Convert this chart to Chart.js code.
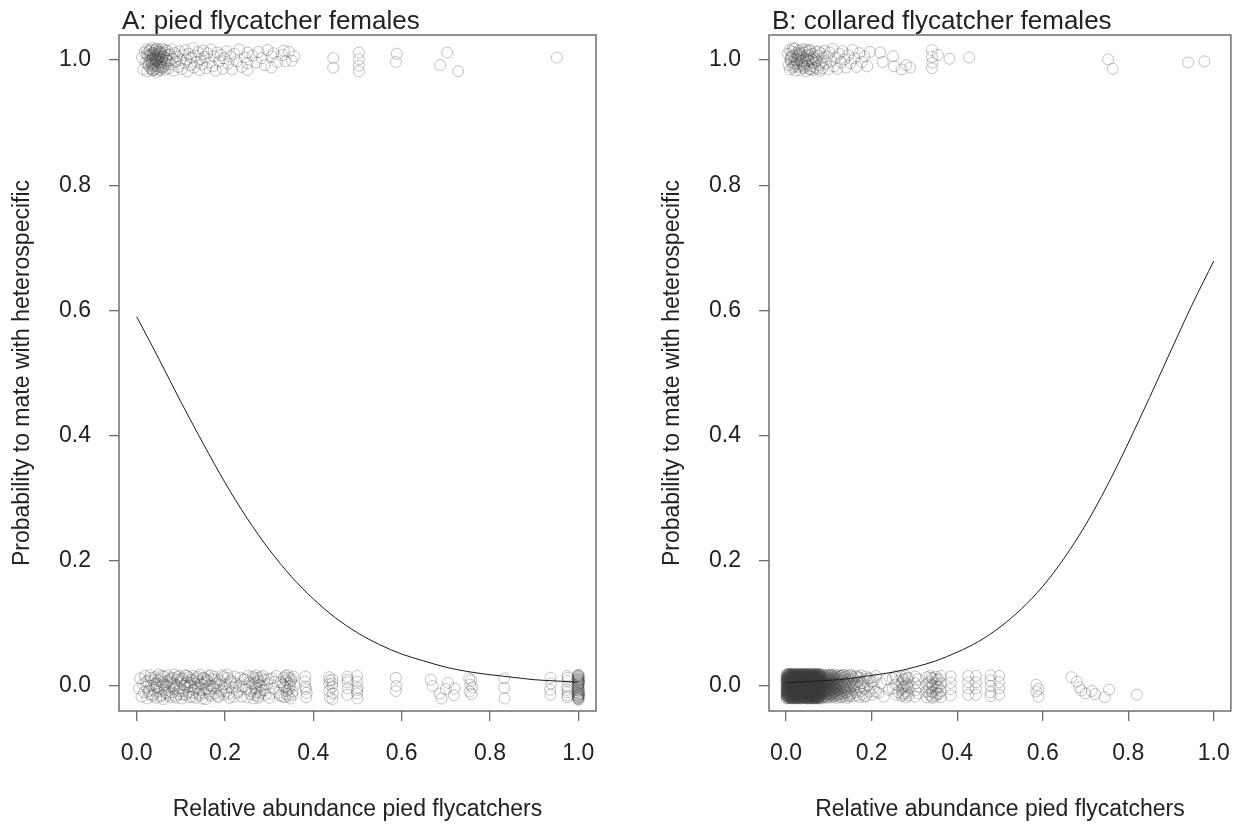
<!DOCTYPE html>
<html>
<head>
<meta charset="utf-8">
<title>Heterospecific pairing vs relative abundance</title>
<script src="https://cdn.jsdelivr.net/npm/chart.js@4.4.1/dist/chart.umd.min.js"></script>
<style>
  html, body { margin: 0; padding: 0; background: #fff; }
  #wrap { position: relative; width: 1249px; height: 824px; overflow: hidden; }
  canvas { position: absolute; top: 0; }
  #panelA { left: 0; }
  #panelB { left: 624px; }
</style>
</head>
<body>
<div id="wrap">
  <canvas id="panelA" width="624" height="824"></canvas>
  <canvas id="panelB" width="625" height="824"></canvas>
</div>
<script>
// Axis ticks and labels
const xTickValues = [0, 0.2, 0.4, 0.6, 0.8, 1.0];
const yTickValues = [0, 0.2, 0.4, 0.6, 0.8, 1.0];
const xTitle = 'Relative abundance pied flycatchers';
const yTitle = 'Probability to mate with heterospecific';
const panelTitles = ['A: pied flycatcher females', 'B: collared flycatcher females'];

// Fitted probability curves
const fitX = [0, 0.05, 0.10, 0.15, 0.20, 0.25, 0.30, 0.35, 0.40, 0.45, 0.50,
              0.55, 0.60, 0.65, 0.70, 0.75, 0.80, 0.85, 0.90, 0.95, 1.00];
const piedFit = [0.590, 0.523, 0.454, 0.388, 0.325, 0.268, 0.218, 0.175, 0.139, 0.109, 0.085,
                 0.066, 0.051, 0.040, 0.030, 0.023, 0.018, 0.014, 0.010, 0.008, 0.006];
const collaredFit = [0.005, 0.007, 0.009, 0.012, 0.017, 0.022, 0.030, 0.040, 0.054, 0.071, 0.094,
                     0.123, 0.159, 0.204, 0.257, 0.319, 0.388, 0.461, 0.536, 0.610, 0.679];

// Pied females that paired with a collared male (jittered around 1)
const piedOnes = [
  [0.012,1.004],[0.015,0.985],[0.018,1.012],[0.020,0.996],[0.022,1.017],[0.024,0.982],[0.025,1.006],[0.027,0.991],
  [0.028,1.014],[0.030,0.999],[0.031,0.987],[0.032,1.009],[0.034,0.994],[0.035,1.019],[0.036,0.983],[0.037,1.002],
  [0.038,0.990],[0.039,1.011],[0.040,0.997],[0.041,1.015],[0.042,0.986],[0.043,1.005],[0.044,0.993],[0.045,1.008],
  [0.046,0.981],[0.047,1.013],[0.048,0.998],[0.049,1.003],[0.050,0.989],[0.051,1.016],[0.052,0.995],[0.053,1.007],
  [0.054,0.984],[0.055,1.010],[0.056,0.992],[0.057,1.001],[0.058,1.018],[0.059,0.988],[0.060,1.006],[0.062,0.996],
  [0.063,1.012],[0.065,0.985],[0.066,1.003],[0.068,0.994],[0.069,1.015],[0.071,0.999],[0.073,0.987],[0.075,1.009],
  [0.077,0.993],[0.079,1.017],[0.081,1.002],[0.083,0.983],[0.086,1.011],[0.088,0.997],[0.091,1.006],[0.094,0.989],
  [0.097,1.014],[0.099,1.000],[0.033,1.001],[0.036,1.008],[0.044,0.999],[0.047,0.990],[0.051,1.004],[0.041,1.006],
  [0.029,1.007],[0.054,1.013],[0.038,0.984],[0.045,1.018],
  [0.023,1.009],[0.026,0.994],[0.030,1.016],[0.034,0.986],[0.037,1.011],[0.040,0.992],[0.043,1.017],[0.046,1.001],
  [0.049,0.985],[0.052,1.012],[0.055,0.997],[0.058,1.005],[0.061,0.990],[0.064,1.016],[0.067,0.999],[0.070,1.008],
  [0.035,0.996],[0.042,1.002],[0.048,1.010],[0.056,0.988],
  [0.102,0.986],[0.105,1.008],[0.108,0.995],[0.110,1.016],[0.113,1.001],[0.115,0.982],[0.118,1.010],[0.121,0.992],
  [0.124,1.004],[0.127,1.019],[0.130,0.988],[0.133,1.007],[0.136,0.997],[0.139,1.013],[0.142,0.984],[0.145,1.002],
  [0.148,0.993],[0.151,1.015],[0.154,1.005],[0.157,0.987],[0.160,1.011],[0.164,0.996],[0.168,1.017],[0.171,0.990],
  [0.175,1.006],[0.179,0.983],[0.183,1.012],[0.187,0.998],[0.191,1.008],[0.195,0.986],[0.198,1.003],
  [0.203,1.014],[0.207,0.994],[0.212,1.006],[0.216,0.985],[0.221,1.010],[0.226,0.998],[0.232,1.017],[0.238,0.989],
  [0.245,1.004],[0.251,0.995],[0.251,1.012],[0.251,0.984],[0.262,1.007],[0.271,0.996],[0.276,1.013],[0.283,1.003],
  [0.290,0.992],[0.296,1.016],[0.305,1.006],[0.305,0.988],[0.310,1.011],[0.318,0.997],[0.330,1.008],[0.333,1.015],
  [0.337,0.998],[0.345,1.013],[0.351,0.999],[0.357,1.006],
  [0.445,1.003],[0.445,0.988],[0.503,1.012],[0.503,1.001],[0.503,0.991],[0.503,0.982],[0.589,1.010],[0.587,0.997],
  [0.703,1.012],[0.687,0.992],[0.728,0.982],[0.951,1.004]
];

// Pied females paired with a pied male (jittered around 0)
const piedZeros = [
  [0.005,-0.004],[0.008,0.012],[0.011,-0.017],[0.014,0.003],[0.017,-0.010],[0.019,0.016],[0.022,-0.001],[0.024,-0.020],
  [0.026,0.008],[0.029,-0.013],[0.031,0.017],[0.033,0.000],[0.035,-0.016],[0.038,0.010],[0.040,-0.006],[0.042,0.014],
  [0.044,-0.019],[0.046,0.004],[0.048,-0.009],[0.050,0.018],[0.052,-0.003],[0.054,0.011],[0.056,-0.015],[0.058,0.006],
  [0.060,-0.021],[0.062,0.015],[0.064,-0.007],[0.066,0.002],[0.068,-0.012],[0.070,0.017],[0.072,-0.002],[0.074,0.009],
  [0.076,-0.018],[0.078,0.005],[0.080,-0.010],[0.082,0.013],[0.084,-0.005],[0.086,0.018],[0.088,-0.016],[0.090,0.001],
  [0.092,0.010],[0.094,-0.013],[0.096,0.016],[0.098,-0.004],[0.100,0.007],[0.102,-0.020],[0.104,0.012],[0.106,-0.008],
  [0.108,0.003],[0.110,0.017],[0.112,-0.014],[0.114,0.006],[0.116,-0.002],[0.118,0.014],[0.120,-0.018],[0.122,0.000],
  [0.124,0.010],[0.126,-0.011],[0.128,0.016],[0.130,-0.006],[0.132,0.004],[0.134,-0.019],[0.136,0.012],[0.138,-0.003],
  [0.140,0.008],[0.142,-0.015],[0.144,0.018],[0.146,-0.007],[0.148,0.002],[0.150,0.013],[0.152,-0.012],[0.154,0.006],
  [0.156,-0.021],[0.158,0.010],[0.160,-0.004],[0.162,0.016],[0.164,-0.009],[0.166,0.001],[0.168,-0.016],[0.170,0.011],
  [0.173,-0.001],[0.176,0.015],[0.179,-0.012],[0.182,0.005],[0.185,-0.018],[0.188,0.009],[0.191,-0.006],[0.194,0.017],
  [0.197,-0.014],[0.200,0.003],[0.203,-0.009],[0.206,0.013],[0.210,-0.019],[0.214,0.006],[0.218,-0.003],[0.222,0.015],
  [0.227,-0.011],[0.232,0.001],[0.237,-0.017],[0.242,0.010],[0.247,-0.005],[0.252,0.016],[0.257,-0.013],[0.261,0.004],
  [0.264,-0.020],[0.266,0.012],[0.268,-0.002],[0.270,0.017],[0.272,-0.010],[0.274,0.007],[0.276,-0.016],[0.278,0.002],
  [0.281,0.014],[0.284,-0.007],[0.288,0.010],[0.292,-0.014],[0.296,0.003],[0.300,-0.019],[0.305,0.012],[0.310,-0.004],
  [0.316,0.016],[0.321,-0.011],[0.326,0.006],[0.330,-0.017],[0.333,0.013],[0.336,-0.002],[0.338,0.009],[0.340,-0.013],
  [0.342,0.017],[0.344,-0.006],[0.346,0.004],[0.348,-0.020],[0.350,0.011],[0.353,-0.009],[0.356,0.001],
  [0.021,0.007],[0.027,-0.008],[0.032,0.013],[0.037,-0.014],[0.041,0.003],[0.045,-0.002],[0.049,0.009],[0.053,-0.017],
  [0.057,0.016],[0.061,0.001],[0.065,-0.011],[0.069,0.007],[0.073,-0.015],[0.077,0.012],[0.081,-0.001],[0.085,0.004],
  [0.089,-0.019],[0.093,0.014],[0.097,-0.008],[0.101,0.011],[0.105,-0.014],[0.109,0.000],[0.113,0.016],[0.117,-0.010],
  [0.121,0.005],[0.125,-0.017],[0.129,0.009],[0.133,-0.003],[0.137,0.015],[0.141,-0.012],[0.145,0.004],[0.149,-0.020],
  [0.153,0.012],[0.157,-0.006],[0.161,0.008],[0.165,-0.013],[0.169,0.017],[0.174,-0.004],[0.178,0.010],[0.183,-0.016],
  [0.187,0.002],[0.192,-0.009],[0.196,0.014],[0.201,-0.002],[0.205,0.018],[0.209,-0.012],[0.213,0.009],[0.220,-0.017],
  [0.225,0.004],[0.230,-0.008],[0.235,0.013],[0.240,-0.001],[0.245,0.011],[0.250,-0.018],[0.255,0.006],[0.259,-0.008],
  [0.263,0.015],[0.267,-0.014],[0.269,0.004],[0.271,-0.005],[0.273,0.013],[0.275,-0.019],[0.277,0.009],[0.279,-0.011],
  [0.282,0.000],[0.286,0.016],[0.290,-0.007],[0.298,0.011],[0.303,-0.012],[0.313,0.007],[0.324,-0.015],[0.331,0.002],
  [0.335,-0.018],[0.337,0.016],[0.339,-0.008],[0.341,0.005],[0.343,-0.016],[0.345,0.013],[0.347,-0.001],[0.349,0.008],
  [0.352,-0.014],[0.355,0.015],
  [0.381,0.007],[0.383,-0.005],[0.384,-0.018],[0.382,0.015],[0.385,-0.011],[0.382,-0.001],
  [0.436,0.014],[0.436,0.003],[0.436,-0.008],[0.437,-0.019],[0.443,0.010],[0.443,-0.001],[0.444,-0.012],[0.443,-0.021],
  [0.437,0.009],[0.443,0.004],
  [0.477,0.015],[0.477,0.006],[0.478,-0.004],[0.477,-0.014],[0.499,0.016],[0.499,0.007],[0.500,-0.003],[0.499,-0.012],
  [0.500,-0.020],[0.478,0.010],[0.499,-0.007],
  [0.587,0.013],[0.588,0.000],[0.587,-0.008],
  [0.666,0.010],[0.670,0.000],[0.686,-0.012],[0.690,-0.020],[0.700,-0.005],[0.705,0.005],[0.718,-0.015],[0.720,-0.004],
  [0.753,0.012],[0.755,0.002],[0.754,-0.009],[0.757,0.009],[0.760,-0.002],[0.758,-0.013],
  [0.832,0.012],[0.832,-0.003],[0.833,-0.020],
  [0.937,0.013],[0.938,0.004],[0.936,-0.006],[0.937,-0.014],
  [0.975,0.016],[0.976,0.008],[0.975,-0.001],[0.976,-0.010],[0.975,-0.018],[0.976,0.013],[0.975,-0.006],[0.976,-0.015],
  [0.999,0.018],[1.001,0.014],[1.000,0.011],[0.998,0.008],[1.002,0.005],[1.000,0.002],[0.999,-0.001],[1.001,-0.004],
  [1.000,-0.007],[0.998,-0.010],[1.002,-0.013],[1.000,-0.016],[0.999,-0.019],[1.001,-0.022],[1.000,0.016],[0.999,0.012],
  [1.001,0.006],[1.000,0.000],[0.998,-0.006],[1.002,-0.012],[1.000,-0.018],[1.001,0.009],[0.999,-0.015],[1.000,0.003],
  [0.999,0.015],[1.001,0.010],[1.000,0.004],[0.999,-0.002],[1.001,-0.008],[1.000,-0.014],[0.999,-0.020],[1.001,0.017],
  [1.000,0.007],[0.999,-0.011],[1.001,-0.017],[1.000,-0.021]
];

// Collared females that paired with a pied male (jittered around 1)
const collaredOnes = [
  [0.004,1.010],[0.006,0.992],[0.008,1.016],[0.009,0.985],[0.011,1.004],[0.012,0.997],[0.014,1.013],[0.015,0.988],
  [0.017,1.007],[0.018,0.994],[0.020,1.018],[0.021,1.001],[0.022,0.983],[0.024,1.011],[0.025,0.996],[0.027,1.006],
  [0.028,0.989],[0.030,1.015],[0.031,1.002],[0.033,0.984],[0.034,1.009],[0.036,0.993],[0.037,1.017],[0.038,0.999],
  [0.040,1.005],[0.041,0.987],[0.043,1.012],[0.044,0.995],[0.046,1.003],[0.047,0.982],[0.049,1.014],[0.050,0.991],
  [0.052,1.008],[0.053,0.998],[0.055,0.986],[0.056,1.016],[0.058,1.002],[0.060,0.990],[0.061,1.010],[0.063,0.984],
  [0.065,1.005],[0.066,0.995],[0.068,0.988],[0.070,1.013],[0.072,0.999],[0.073,0.986],[0.075,1.007],[0.077,0.992],
  [0.079,0.983],[0.081,1.011],[0.083,0.996],[0.085,0.987],[0.087,1.004],
  [0.010,1.001],[0.016,1.019],[0.019,0.990],[0.026,1.000],[0.032,1.012],[0.039,0.991],[0.045,1.017],[0.051,1.000],
  [0.057,0.985],[0.013,1.006],[0.023,0.993],[0.029,1.009],[0.035,0.998],[0.042,0.989],[0.048,1.007],[0.054,1.015],
  [0.062,0.997],[0.069,1.002],[0.076,1.014],
  [0.090,1.015],[0.093,0.994],[0.096,1.006],[0.099,0.985],[0.102,1.012],[0.105,0.998],[0.109,1.018],[0.112,0.990],
  [0.116,1.004],[0.120,0.986],[0.124,1.010],[0.128,0.996],[0.132,1.014],[0.136,1.001],[0.140,0.988],[0.145,1.008],
  [0.150,0.995],[0.155,1.016],[0.160,1.003],[0.165,0.989],[0.171,1.011],[0.177,0.997],[0.183,1.006],[0.190,0.990],
  [0.196,1.013],
  [0.220,1.012],[0.226,0.997],[0.250,1.006],[0.252,0.990],[0.270,0.985],[0.281,0.992],[0.290,0.988],
  [0.341,1.016],[0.341,1.005],[0.342,0.996],[0.341,0.987],[0.355,1.008],[0.382,1.002],[0.428,1.004],
  [0.753,1.001],[0.764,0.986],[0.940,0.996],[0.978,0.998]
];

// Collared females paired with a collared male: site abundance with the jittered outcomes recorded there
const collaredZeroSites = [
  [0.001,[0.018,0.013,0.009,0.006,0.001,-0.003,-0.007,-0.012,-0.015,-0.019]],
  [0.002,[0.015,0.011,0.008,0.004,0.000,-0.004,-0.008,-0.011,-0.016,-0.020]],
  [0.003,[0.017,0.012,0.009,0.005,0.000,-0.004,-0.007,-0.011,-0.015,-0.018]],
  [0.004,[0.016,0.012,0.007,0.003,-0.001,-0.005,-0.009,-0.013,-0.017,0.019]],
  [0.005,[0.019,0.014,0.010,0.006,0.003,-0.001,-0.005,-0.009,-0.013,-0.017]],
  [0.006,[0.018,0.015,0.011,0.007,0.002,-0.002,-0.006,-0.010,-0.014,-0.019]],
  [0.007,[0.017,0.014,0.010,0.005,0.002,-0.002,-0.006,-0.010,-0.014,-0.018]],
  [0.008,[0.016,0.013,0.008,0.004,0.001,-0.003,-0.008,-0.012,-0.016,-0.019]],
  [0.009,[0.018,0.013,0.009,0.006,0.001,-0.003,-0.007,-0.012,-0.015,-0.019]],
  [0.010,[0.019,0.014,0.010,0.006,0.003,-0.001,-0.005,-0.009,-0.013,-0.017]],
  [0.011,[0.016,0.012,0.007,0.003,-0.001,-0.005,-0.009,-0.013,-0.017,0.019]],
  [0.012,[0.017,0.012,0.009,0.005,0.000,-0.004,-0.007,-0.011,-0.015,-0.018]],
  [0.013,[0.015,0.011,0.008,0.004,0.000,-0.004,-0.008,-0.011,-0.016,-0.020]],
  [0.014,[0.018,0.015,0.011,0.007,0.002,-0.002,-0.006,-0.010,-0.014,-0.019]],
  [0.015,[0.016,0.013,0.008,0.004,0.001,-0.003,-0.008,-0.012,-0.016,-0.019]],
  [0.016,[0.017,0.014,0.010,0.005,0.002,-0.002,-0.006,-0.010,-0.014,-0.018]],
  [0.017,[0.016,0.012,0.007,0.003,-0.001,-0.005,-0.009,-0.013,-0.017,0.019]],
  [0.018,[0.016,0.013,0.008,0.004,0.001,-0.003,-0.008,-0.012,-0.016,-0.019]],
  [0.019,[0.018,0.013,0.009,0.006,0.001,-0.003,-0.007,-0.012,-0.015,-0.019]],
  [0.020,[0.018,0.015,0.011,0.007,0.002,-0.002,-0.006,-0.010,-0.014,-0.019]],
  [0.021,[0.019,0.014,0.010,0.006,0.003,-0.001,-0.005,-0.009,-0.013,-0.017]],
  [0.022,[0.017,0.014,0.010,0.005,0.002,-0.002,-0.006,-0.010,-0.014,-0.018]],
  [0.023,[0.017,0.012,0.009,0.005,0.000,-0.004,-0.007,-0.011,-0.015,-0.018]],
  [0.024,[0.015,0.011,0.008,0.004,0.000,-0.004,-0.008,-0.011,-0.016,-0.020]],
  [0.025,[0.018,0.013,0.009,0.006,0.001,-0.003,-0.007,-0.012,-0.015,-0.019]],
  [0.026,[0.016,0.013,0.008,0.004,0.001,-0.003,-0.008,-0.012,-0.016,-0.019]],
  [0.027,[0.018,0.015,0.011,0.007,0.002,-0.002,-0.006,-0.010,-0.014,-0.019]],
  [0.028,[0.016,0.012,0.007,0.003,-0.001,-0.005,-0.009,-0.013,-0.017,0.019]],
  [0.029,[0.019,0.014,0.010,0.006,0.003,-0.001,-0.005,-0.009,-0.013,-0.017]],
  [0.030,[0.017,0.014,0.010,0.005,0.002,-0.002,-0.006,-0.010,-0.014,-0.018]],
  [0.031,[0.017,0.012,0.009,0.005,0.000,-0.004,-0.007,-0.011,-0.015,-0.018]],
  [0.032,[0.018,0.013,0.009,0.006,0.001,-0.003,-0.007,-0.012,-0.015,-0.019]],
  [0.033,[0.015,0.011,0.008,0.004,0.000,-0.004,-0.008,-0.011,-0.016,-0.020]],
  [0.034,[0.018,0.015,0.011,0.007,0.002,-0.002,-0.006,-0.010,-0.014,-0.019]],
  [0.035,[0.016,0.013,0.008,0.004,0.001,-0.003,-0.008,-0.012,-0.016,-0.019]],
  [0.036,[0.016,0.012,0.007,0.003,-0.001,-0.005,-0.009,-0.013,-0.017,0.019]],
  [0.037,[0.019,0.014,0.010,0.006,0.003,-0.001,-0.005,-0.009,-0.013,-0.017]],
  [0.038,[0.017,0.012,0.009,0.005,0.000,-0.004,-0.007,-0.011,-0.015,-0.018]],
  [0.039,[0.017,0.014,0.010,0.005,0.002,-0.002,-0.006,-0.010,-0.014,-0.018]],
  [0.040,[0.018,0.013,0.009,0.006,0.001,-0.003,-0.007,-0.012,-0.015,-0.019]],
  [0.041,[0.017,0.014,0.010,0.005,0.002,-0.002,-0.006,-0.010,-0.014,-0.018]],
  [0.042,[0.018,0.015,0.011,0.007,0.002,-0.002,-0.006,-0.010,-0.014,-0.019]],
  [0.043,[0.019,0.014,0.010,0.006,0.003,-0.001,-0.005,-0.009,-0.013,-0.017]],
  [0.044,[0.018,0.013,0.009,0.006,0.001,-0.003,-0.007,-0.012,-0.015,-0.019]],
  [0.045,[0.016,0.013,0.008,0.004,0.001,-0.003,-0.008,-0.012,-0.016,-0.019]],
  [0.046,[0.016,0.012,0.007,0.003,-0.001,-0.005,-0.009,-0.013,-0.017,0.019]],
  [0.047,[0.017,0.012,0.009,0.005,0.000,-0.004,-0.007,-0.011,-0.015,-0.018]],
  [0.048,[0.015,0.011,0.008,0.004,0.000,-0.004,-0.008,-0.011,-0.016,-0.020]],
  [0.049,[0.019,0.014,0.010,0.006,0.003,-0.001,-0.005,-0.009,-0.013,-0.017]],
  [0.050,[0.018,0.013,0.009,0.006,0.001,-0.003,-0.007,-0.012,-0.015,-0.019]],
  [0.051,[0.018,0.015,0.011,0.007,0.002,-0.002,-0.006,-0.010,-0.014,-0.019]],
  [0.052,[0.017,0.014,0.010,0.005,0.002,-0.002,-0.006,-0.010,-0.014,-0.018]],
  [0.053,[0.016,0.013,0.008,0.004,0.001,-0.003,-0.008,-0.012,-0.016,-0.019]],
  [0.054,[0.015,0.011,0.008,0.004,0.000,-0.004,-0.008,-0.011,-0.016,-0.020]],
  [0.055,[0.016,0.012,0.007,0.003,-0.001,-0.005,-0.009,-0.013,-0.017,0.019]],
  [0.056,[0.017,0.012,0.009,0.005,0.000,-0.004,-0.007,-0.011,-0.015,-0.018]],
  [0.057,[0.018,0.015,0.011,0.007,0.002,-0.002,-0.006,-0.010,-0.014,-0.019]],
  [0.058,[0.019,0.014,0.010,0.006,0.003,-0.001,-0.005,-0.009,-0.013,-0.017]],
  [0.059,[0.017,0.014,0.010,0.005,0.002,-0.002,-0.006,-0.010,-0.014,-0.018]],
  [0.060,[0.016,0.013,0.008,0.004,0.001,-0.003,-0.008,-0.012,-0.016,-0.019]],
  [0.061,[0.018,0.013,0.009,0.006,0.001,-0.003,-0.007,-0.012,-0.015,-0.019]],
  [0.062,[0.017,0.012,0.009,0.005,0.000,-0.004,-0.007,-0.011,-0.015,-0.018]],
  [0.063,[0.016,0.012,0.007,0.003,-0.001,-0.005,-0.009,-0.013,-0.017,0.019]],
  [0.064,[0.015,0.011,0.008,0.004,0.000,-0.004,-0.008,-0.011,-0.016,-0.020]],
  [0.065,[0.016,0.013,0.008,0.004,0.001,-0.003,-0.008,-0.012,-0.016,-0.019]],
  [0.066,[0.018,0.015,0.011,0.007,0.002,-0.002,-0.006,-0.010,-0.014,-0.019]],
  [0.067,[0.018,0.013,0.009,0.006,0.001,-0.003,-0.007,-0.012,-0.015,-0.019]],
  [0.068,[0.019,0.014,0.010,0.006,0.003,-0.001,-0.005,-0.009,-0.013,-0.017]],
  [0.069,[0.017,0.014,0.010,0.005,0.002,-0.002,-0.006,-0.010,-0.014,-0.018]],
  [0.070,[0.016,0.012,0.007,0.003,-0.001,-0.005,-0.009,-0.013,-0.017,0.019]],
  [0.071,[0.015,0.011,0.008,0.004,0.000,-0.004,-0.008,-0.011,-0.016,-0.020]],
  [0.072,[0.017,0.012,0.009,0.005,0.000,-0.004,-0.007,-0.011,-0.015,-0.018]],
  [0.073,[0.018,0.013,0.009,0.006,0.001,-0.003,-0.007,-0.012,-0.015,-0.019]],
  [0.074,[0.016,0.013,0.008,0.004,0.001,-0.003,-0.008,-0.012,-0.016,-0.019]],
  [0.075,[0.018,0.015,0.011,0.007,0.002,-0.002,-0.006,-0.010,-0.014,-0.019]],
  [0.076,[0.017,0.014,0.010,0.005,0.002,-0.002,-0.006,-0.010,-0.014,-0.018]],
  [0.077,[0.019,0.014,0.010,0.006,0.003,-0.001,-0.005,-0.009,-0.013,-0.017]],
  [0.078,[0.016,0.012,0.007,0.003,-0.001,-0.005,-0.009,-0.013,-0.017,0.019]],
  [0.079,[0.017,0.012,0.009,0.005,0.000,-0.004,-0.007,-0.011,-0.015,-0.018]],
  [0.080,[0.015,0.011,0.008,0.004,0.000,-0.004,-0.008,-0.011,-0.016,-0.020]],
  [0.082,[0.017,0.011,0.006,0.001,-0.004,-0.010,-0.015]],
  [0.084,[0.015,0.009,0.003,-0.002,-0.008,-0.013,-0.019]],
  [0.086,[0.018,0.012,0.007,0.002,-0.005,-0.011,-0.017]],
  [0.088,[0.014,0.008,0.002,-0.003,-0.009,-0.016]],
  [0.090,[0.016,0.010,0.005,-0.001,-0.007,-0.012,-0.018]],
  [0.092,[0.013,0.007,0.001,-0.006,-0.011,-0.017]],
  [0.094,[0.017,0.011,0.004,-0.002,-0.008,-0.014]],
  [0.096,[0.015,0.008,0.003,-0.004,-0.010,-0.019]],
  [0.098,[0.018,0.012,0.006,0.000,-0.007,-0.013]],
  [0.100,[0.014,0.009,0.002,-0.005,-0.011,-0.017]],
  [0.102,[0.016,0.010,0.004,-0.003,-0.009,-0.015]],
  [0.104,[0.012,0.006,-0.001,-0.007,-0.014,0.018]],
  [0.106,[0.017,0.009,0.002,-0.005,-0.012,-0.018]],
  [0.108,[0.014,0.007,0.000,-0.006,-0.013]],
  [0.110,[0.016,0.010,0.003,-0.004,-0.010,-0.017]],
  [0.112,[0.013,0.005,-0.002,-0.009,-0.016]],
  [0.114,[0.018,0.011,0.004,-0.003,-0.011]],
  [0.116,[0.015,0.007,-0.001,-0.008,-0.015]],
  [0.118,[0.012,0.004,-0.005,-0.012,-0.019]],
  [0.120,[0.017,0.009,0.001,-0.007,-0.014]],
  [0.123,[0.014,0.004,-0.006,-0.015,0.010]],
  [0.126,[0.016,0.006,-0.003,-0.012,-0.018]],
  [0.129,[0.011,0.001,-0.009,-0.018,0.016]],
  [0.132,[0.017,0.008,-0.002,-0.013]],
  [0.135,[0.013,0.003,-0.007,-0.016,0.018]],
  [0.138,[0.015,0.005,-0.004,-0.011]],
  [0.141,[0.010,0.000,-0.010,-0.019]],
  [0.144,[0.016,0.007,-0.005,-0.014]],
  [0.147,[0.012,0.002,-0.008,-0.017]],
  [0.150,[0.018,0.006,-0.003,-0.015]],
  [0.153,[0.009,-0.001,-0.012,0.016]],
  [0.156,[0.014,0.004,-0.017]],
  [0.159,[0.011,-0.006,0.001]],
  [0.163,[0.016,0.003,-0.010]],
  [0.167,[0.007,-0.015,0.015]],
  [0.171,[0.013,-0.002,-0.018]],
  [0.175,[0.017,-0.008,0.004]],
  [0.179,[0.005,-0.013]],
  [0.183,[0.010,-0.004,-0.017]],
  [0.187,[0.015,-0.016]],
  [0.191,[0.001,0.012]],
  [0.195,[0.012,-0.009]],
  [0.200,[-0.014,0.006]],
  [0.205,[0.008,-0.003]],
  [0.210,[0.016,-0.009]],
  [0.216,[-0.011]],
  [0.222,[0.004]],
  [0.228,[-0.017]],
  [0.234,[0.011]],
  [0.240,[-0.006]],
  [0.249,[0.012,-0.004]],
  [0.256,[0.016,0.002,-0.014]],
  [0.262,[0.008,-0.010]],
  [0.270,[0.015,0.005,-0.006,-0.016]],
  [0.273,[0.009,-0.003,-0.014]],
  [0.275,[0.011,0.000,-0.012]],
  [0.280,[0.016,0.004,-0.008,-0.018]],
  [0.283,[0.012,0.001,-0.011]],
  [0.286,[0.013,-0.002,-0.015]],
  [0.302,[0.015,0.004,-0.007,-0.017]],
  [0.309,[0.011,-0.001,-0.012]],
  [0.329,[0.014,0.003,-0.009,-0.018]],
  [0.336,[0.016,0.006,-0.004,-0.014]],
  [0.340,[0.013,0.002,-0.009,-0.017]],
  [0.343,[0.012,0.001,-0.010,-0.019]],
  [0.350,[0.015,0.005,-0.006,-0.016]],
  [0.353,[0.010,-0.001,-0.012]],
  [0.357,[0.011,-0.002,-0.013]],
  [0.362,[0.016,0.004,-0.008,-0.018]],
  [0.385,[0.015,0.005,-0.005,-0.015]],
  [0.426,[0.016,0.006,-0.004,-0.014]],
  [0.444,[0.016,0.006,-0.004,-0.014]],
  [0.478,[0.017,0.009,0.000,-0.010,-0.016]],
  [0.498,[0.016,0.006,-0.004,-0.014]],
  [0.585,[0.002,-0.009]],
  [0.590,[-0.005,-0.017]],
  [0.667,[0.014]],
  [0.680,[0.007]],
  [0.686,[-0.002]],
  [0.690,[-0.007]],
  [0.700,[-0.012]],
  [0.715,[-0.008]],
  [0.722,[-0.013]],
  [0.745,[-0.018]],
  [0.755,[-0.006]],
  [0.820,[-0.014]]
];

// ---- helpers to turn the tables above into Chart.js points ----
const toPoints = pairs => pairs.map(([x, y]) => ({ x, y }));
const sitesToPoints = sites => sites.flatMap(([x, ys]) => ys.map(y => ({ x, y })));
const fitPoints = values => fitX.map((x, i) => ({ x, y: values[i] }));

const FONT = '"Liberation Sans", Arial, Helvetica, sans-serif';
const TEXT = '#222';
const FRAME = '#6e6e6e';

// Plot frame and panel heading
const panelFrame = {
  id: 'panelFrame',
  afterDraw(chart, args, opts) {
    const { ctx, chartArea: { left, top, right, bottom } } = chart;
    ctx.save();
    ctx.strokeStyle = FRAME;
    ctx.lineWidth = 1.5;
    ctx.strokeRect(left, top, right - left, bottom - top);
    ctx.fillStyle = TEXT;
    ctx.font = '26px ' + FONT;
    ctx.textAlign = 'left';
    ctx.textBaseline = 'alphabetic';
    ctx.fillText(opts.text, left + 3, 29);
    ctx.restore();
  }
};

const circleStyle = {
  pointStyle: 'circle',
  pointRadius: 5.5,
  pointHoverRadius: 5.5,
  pointBorderWidth: 1,
  pointBorderColor: 'rgba(60,60,60,0.3)',
  pointBackgroundColor: 'rgba(0,0,0,0)',
  showLine: false
};

function buildPanel(canvasId, cfg) {
  return new Chart(document.getElementById(canvasId), {
    type: 'scatter',
    data: {
      datasets: [
        {
          data: fitPoints(cfg.fit),
          showLine: true,
          borderColor: '#1a1a1a',
          borderWidth: 1,
          pointRadius: 0,
          cubicInterpolationMode: 'monotone',
          fill: false
        },
        Object.assign({ data: cfg.ones }, circleStyle),
        Object.assign({ data: cfg.zeros }, circleStyle)
      ]
    },
    options: {
      responsive: false,
      animation: false,
      devicePixelRatio: 1,
      events: [],
      layout: { padding: { top: 35, right: cfg.padRight, left: 0, bottom: 0 } },
      plugins: {
        legend: { display: false },
        tooltip: { enabled: false },
        panelFrame: { text: cfg.title }
      },
      scales: {
        x: {
          type: 'linear',
          min: -0.04,
          max: 1.04,
          afterBuildTicks: s => { s.ticks = xTickValues.map(v => ({ value: v })); },
          afterFit: s => { s.height = 113; },
          border: { display: false },
          grid: { drawOnChartArea: false, drawTicks: true, tickLength: 10, color: FRAME, lineWidth: 1.3 },
          ticks: {
            padding: 19, color: TEXT, autoSkip: false, maxRotation: 0,
            font: { family: FONT, size: 23 },
            callback: v => Number(v).toFixed(1)
          },
          title: {
            display: true, text: xTitle, color: TEXT,
            font: { family: FONT, size: 23 },
            padding: { top: 0, bottom: 1 }
          }
        },
        y: {
          type: 'linear',
          min: -0.04,
          max: 1.04,
          afterBuildTicks: s => { s.ticks = yTickValues.map(v => ({ value: v })); },
          afterFit: s => { s.width = cfg.yWidth; },
          border: { display: false },
          grid: { drawOnChartArea: false, drawTicks: true, tickLength: 10, color: FRAME, lineWidth: 1.3 },
          ticks: {
            padding: 18, color: TEXT, autoSkip: false,
            font: { family: FONT, size: 23 },
            callback: v => Number(v).toFixed(1)
          },
          title: {
            display: true, text: yTitle, color: TEXT,
            font: { family: FONT, size: 23 },
            padding: { top: cfg.yTitlePad, bottom: 0 }
          }
        }
      }
    },
    plugins: [panelFrame]
  });
}

buildPanel('panelA', {
  title: panelTitles[0],
  fit: piedFit,
  ones: toPoints(piedOnes),
  zeros: toPoints(piedZeros),
  yWidth: 119,
  yTitlePad: 9,
  padRight: 28
});

buildPanel('panelB', {
  title: panelTitles[1],
  fit: collaredFit,
  ones: toPoints(collaredOnes),
  zeros: sitesToPoints(collaredZeroSites),
  yWidth: 145,
  yTitlePad: 35,
  padRight: 3
});
</script>
</body>
</html>
